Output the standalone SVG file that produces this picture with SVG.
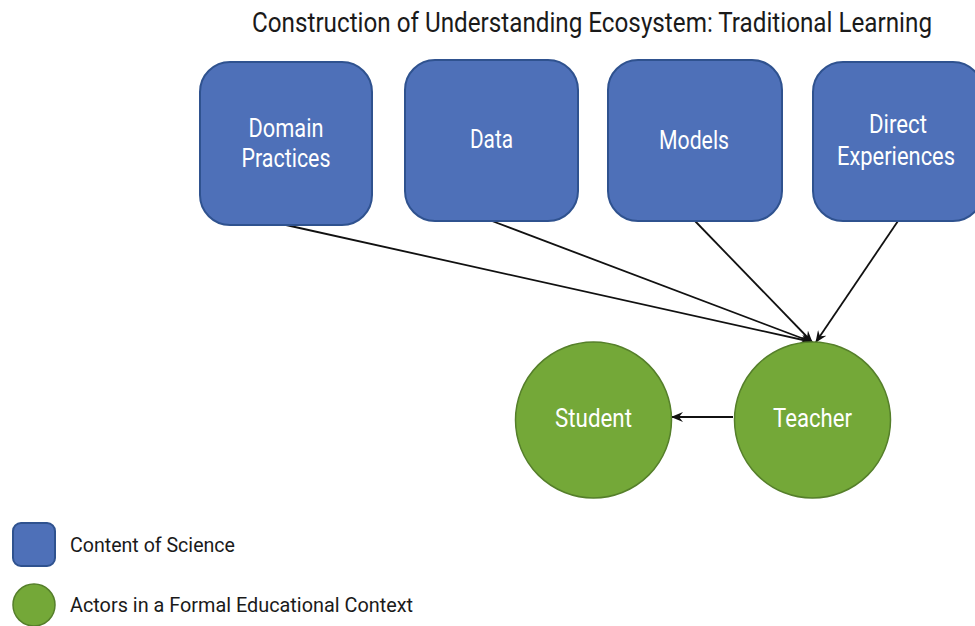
<svg xmlns="http://www.w3.org/2000/svg" width="975" height="626" viewBox="0 0 975 626">
<defs>
<style>
.box{fill:#4E70B8;stroke:#2F528F;stroke-width:2}
.circ{fill:#74A838;stroke:#557F2A;stroke-width:1.5}
.lbl{font-family:Roboto,"Liberation Sans",sans-serif;font-size:26px;fill:#ffffff;text-anchor:middle}
.dark{font-family:Roboto,"Liberation Sans",sans-serif;fill:#1a1a1a}
.edge{stroke:#111;stroke-width:1.8;fill:none;marker-end:url(#arr)}
</style>
<marker id="arr" viewBox="0 0 12 10" refX="11" refY="5" markerWidth="12" markerHeight="10" markerUnits="userSpaceOnUse" orient="auto">
<path d="M0,0 L12,5 L0,10 L4,5 z" fill="#111"/>
</marker>
</defs>
<text class="dark" x="252" y="32" font-size="27" textLength="680" lengthAdjust="spacingAndGlyphs">Construction of Understanding Ecosystem: Traditional Learning</text>
<g id="connectors">
<line class="edge" x1="286" y1="225" x2="812" y2="342"/>
<line class="edge" x1="492" y1="221" x2="812" y2="342"/>
<line class="edge" x1="695" y1="221" x2="812" y2="342"/>
<line class="edge" x1="898" y1="221" x2="816" y2="342"/>
<line class="edge" x1="733" y1="417" x2="672" y2="417"/>
</g>
<g id="domain">
<rect class="box" x="200" y="62" width="172" height="163" rx="30"/>
<text class="lbl" x="286" y="137" textLength="75" lengthAdjust="spacingAndGlyphs">Domain</text>
<text class="lbl" x="286" y="167" textLength="89" lengthAdjust="spacingAndGlyphs">Practices</text>
</g>
<g id="data">
<rect class="box" x="405" y="60" width="173" height="161" rx="30"/>
<text class="lbl" x="491.5" y="148" textLength="43" lengthAdjust="spacingAndGlyphs">Data</text>
</g>
<g id="models">
<rect class="box" x="608" y="60" width="174" height="161" rx="30"/>
<text class="lbl" x="694" y="149" textLength="70" lengthAdjust="spacingAndGlyphs">Models</text>
</g>
<g id="direct">
<rect class="box" x="813" y="62" width="170" height="159" rx="30"/>
<text class="lbl" x="898" y="133" textLength="58" lengthAdjust="spacingAndGlyphs">Direct</text>
<text class="lbl" x="896" y="165" textLength="118" lengthAdjust="spacingAndGlyphs">Experiences</text>
</g>
<g id="student">
<circle class="circ" cx="593.5" cy="420" r="78"/>
<text class="lbl" x="593.5" y="427" textLength="77" lengthAdjust="spacingAndGlyphs">Student</text>
</g>
<g id="teacher">
<circle class="circ" cx="812.5" cy="420" r="78"/>
<text class="lbl" x="812.5" y="427" textLength="79" lengthAdjust="spacingAndGlyphs">Teacher</text>
</g>
<g id="legend">
<rect class="box" x="13" y="523" width="42" height="43" rx="8"/>
<text class="dark" x="70" y="552" font-size="21" textLength="165" lengthAdjust="spacingAndGlyphs">Content of Science</text>
<circle class="circ" cx="34" cy="605" r="21"/>
<text class="dark" x="70" y="612" font-size="21" textLength="343" lengthAdjust="spacingAndGlyphs">Actors in a Formal Educational Context</text>
</g>
</svg>
